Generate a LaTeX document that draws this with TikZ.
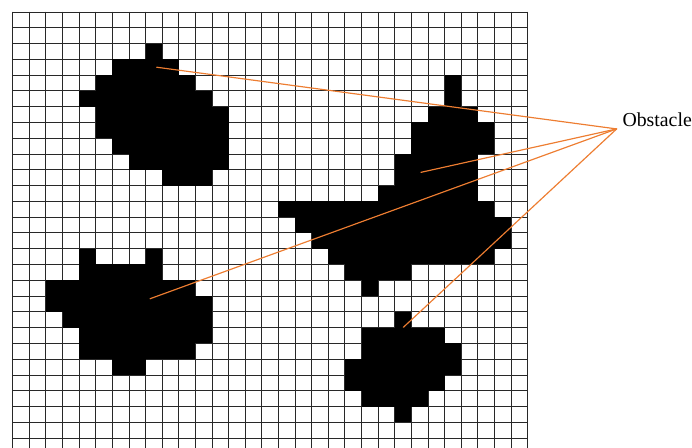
\documentclass[tikz,border=0pt]{standalone}
\usepackage{fontspec}
\setmainfont{Liberation Serif}

\definecolor{gridcolor}{RGB}{40,40,40}
\definecolor{linecolor}{RGB}{237,125,49}

\begin{document}
\begin{tikzpicture}[line cap=rect, line join=miter, x=0.4983cm, y=-0.4734cm,
	gridline/.style={color=gridcolor, line width=0.75pt},
	pointer/.style={color=linecolor, line width=1pt, line cap=round}]
		
		% Marco de la figura
		\useasboundingbox (-0.7646,-0.7605) rectangle (40.897,27.63);
		
		% Rejilla
		\foreach \x in {0,...,31}
		\draw[gridline] (\x,0) -- (\x,27.63);
		\foreach \y in {0,...,27}
		\draw[gridline] (0,\y) -- (31,\y);
		
		% Obstaculos (fila/columna inicial/columna final)
		\foreach \r/\a/\b in {2/8/8, 3/6/9, 4/5/10, 5/4/11, 6/5/12, 7/5/12, 8/6/12, 9/7/12, 10/9/11}
		\fill[black] (\a,\r) rectangle (\b+1,\r+1);
		
		\foreach \r/\a/\b in {4/26/26, 5/26/26, 6/25/27, 7/24/28, 8/24/28, 9/23/27, 10/23/27, 11/22/27,
			12/16/28, 13/17/29, 14/18/29, 15/19/28, 16/20/23, 17/21/21}
		\fill[black] (\a,\r) rectangle (\b+1,\r+1);
		
		\foreach \r/\a/\b in {15/4/4, 15/8/8, 16/4/8, 17/2/10, 18/2/11, 19/3/11, 20/4/11, 21/4/10, 22/6/7}
		\fill[black] (\a,\r) rectangle (\b+1,\r+1);
		
		\foreach \r/\a/\b in {19/23/23, 20/21/25, 21/21/26, 22/20/26, 23/20/25, 24/21/24, 25/23/23}
		\fill[black] (\a,\r) rectangle (\b+1,\r+1);
		
		% Etiqueta y lineas
		\node[anchor=base west, inner sep=0pt, font=\fontsize{16.9}{20}\selectfont] (obst) at (36.70,7.26) {Obstacle};
		\coordinate (hub) at (36.36,7.41);
		\coordinate (o1) at (8.67,3.50);
		\coordinate (o2) at (24.58,10.16);
		\coordinate (o3) at (8.27,18.17);
		\coordinate (o4) at (23.52,19.98);
		\foreach \o in {o1,o2,o3,o4}
		\draw[pointer] (hub) -- (\o);
		
	\end{tikzpicture}
\end{document}
